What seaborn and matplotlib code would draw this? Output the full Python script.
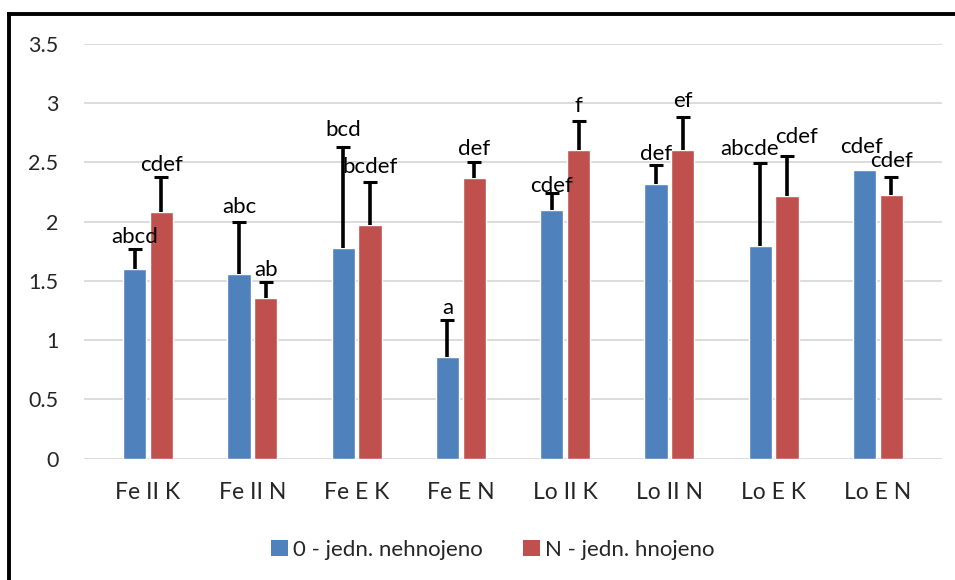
import matplotlib
matplotlib.use("Agg")
import matplotlib.pyplot as plt
from matplotlib.lines import Line2D
from matplotlib.patches import Patch
import numpy as np
import pandas as pd
import seaborn as sns

# Treatments and the two fertilisation series
categories = ["Fe II K", "Fe II N", "Fe E K", "Fe E N", "Lo II K", "Lo II N", "Lo E K", "Lo E N"]
series = ["0 - jedn. nehnojeno", "N - jedn. hnojeno"]

means_0 = [1.60, 1.56, 1.78, 0.86, 2.10, 2.32, 1.79, 2.435]
means_n = [2.08, 1.355, 1.97, 2.37, 2.60, 2.60, 2.215, 2.22]

# Upper error (mean + err = top of whisker); NaN = no whisker shown
err_0 = [0.17, 0.44, 0.85, 0.31, 0.14, 0.16, 0.70, np.nan]
err_n = [0.30, 0.135, 0.36, 0.13, 0.25, 0.28, 0.335, 0.155]

# Significance letters
letters_0 = ["abcd", "abc", "bcd", "a", "cdef", "def", "abcde", "cdef"]
letters_n = ["cdef", "ab", "bcdef", "def", "f", "ef", "cdef", "cdef"]

# Letter placement tweaks (points above whisker top, horizontal shift in points)
lift_0 = [4, 6.5, 8, 4, 1, 3.5, 6, 12]
lift_n = [4, 4, 7, 5, 6, 7.5, 9.5, 7]
shift_0 = [0, 0, 0, 0, 0, 0, -8, -2.5]
shift_n = [0, 0, 0, 0, 0, 0, 6.5, 0]

colors = ["#4F81BD", "#C0504D"]

df = pd.DataFrame({
    "treatment": categories * 2,
    "value": means_0 + means_n,
    "series": [series[0]] * len(categories) + [series[1]] * len(categories),
})

sns.set_style("white")
plt.rcParams["font.family"] = ["Lato", "DejaVu Sans"]

fig = plt.figure(figsize=(9.55, 5.8), dpi=100)
ax = fig.add_axes([84 / 955, 1 - 458.7 / 580, (942 - 84) / 955, (458.7 - 43.7) / 580])

sns.barplot(data=df, x="treatment", y="value", hue="series", order=categories,
            hue_order=series, palette=colors, saturation=1, width=0.513, gap=0.13,
            errorbar=None, legend=False, ax=ax, zorder=2)

yt = np.arange(0, 3.51, 0.5)
ax.set_ylim(0, 3.5)
ax.set_yticks(yt)
ax.set_yticklabels([f"{v:g}" for v in yt], fontsize=15.5)
ax.set_xlabel("")
ax.set_ylabel("")
ax.tick_params(axis="x", length=0, pad=17, labelsize=16.5)
ax.tick_params(axis="y", length=0, pad=18.5)
ax.grid(axis="y", color="#d9d9d9", linewidth=1.3, zorder=0)
ax.grid(axis="x", visible=False)
ax.set_axisbelow(True)
for s in ax.spines.values():
    s.set_visible(False)

for cont, means, errs, letters, lifts, shifts in [
    (ax.containers[0], means_0, err_0, letters_0, lift_0, shift_0),
    (ax.containers[1], means_n, err_n, letters_n, lift_n, shift_n),
]:
    for bar, m, e, lab, lift, sh in zip(cont.patches, means, errs, letters, lifts, shifts):
        xc = bar.get_x() + bar.get_width() / 2
        top = m
        if not np.isnan(e):
            eb = ax.errorbar(xc, m, yerr=[[0], [e]], fmt="none", ecolor="black",
                             elinewidth=2.6, capsize=5, capthick=2.2, zorder=3)
            # keep only the upper cap
            eb[1][0].set_visible(False)
            top = m + e
        ax.annotate(lab, (xc, top), xytext=(sh, lift), textcoords="offset points",
                    ha="center", va="baseline", fontsize=16, color="black", zorder=4)

handles = [Patch(facecolor=c, edgecolor="none") for c in colors]
fig.legend(handles, series, loc="center", bbox_to_anchor=(493 / 955, 1 - 550 / 580),
           ncol=2, frameon=False, fontsize=16, handlelength=0.75, handleheight=0.75,
           handletextpad=0.25, columnspacing=1.8)

# Frame edges along the left and top of the chart area
fig.add_artist(Line2D([8.5 / 955, 8.5 / 955], [0, 1 - 13.5 / 580], color="black",
                      linewidth=2.8, transform=fig.transFigure, solid_capstyle="projecting"))
fig.add_artist(Line2D([8.5 / 955, 1], [1 - 13.5 / 580, 1 - 13.5 / 580], color="black",
                      linewidth=2.8, transform=fig.transFigure, solid_capstyle="projecting"))

fig.savefig("out.png", dpi=100)
